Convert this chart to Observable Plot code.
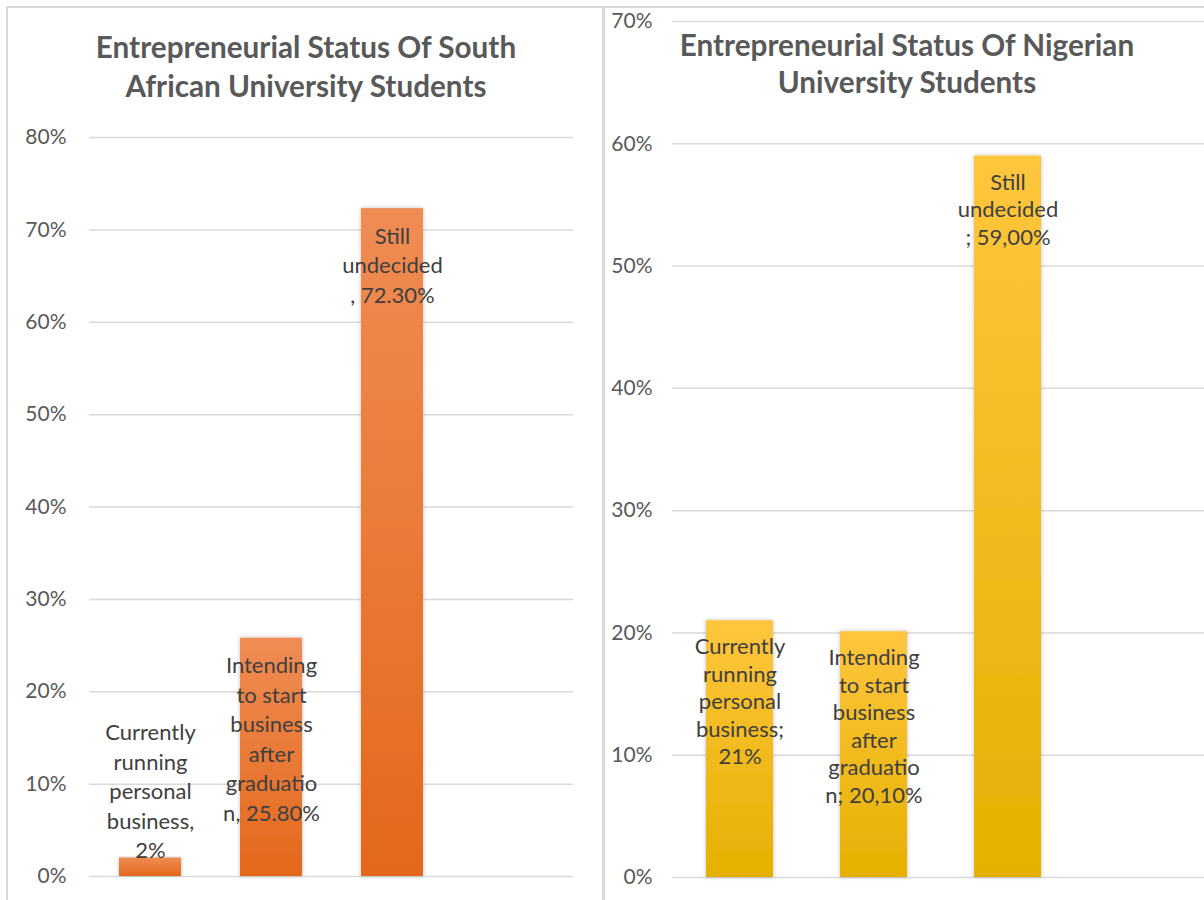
<!DOCTYPE html>
<html><head><meta charset="utf-8">
<script src="https://cdn.jsdelivr.net/npm/d3@7"></script>
<script src="https://cdn.jsdelivr.net/npm/@observablehq/plot@0.6"></script>
<style>
html,body{margin:0;padding:0;background:#fff;}
#wrap{position:relative;width:1204px;height:900px;overflow:hidden;font-family:Lato,"Open Sans",sans-serif;}
.panel{position:absolute;box-sizing:border-box;border:2px solid #d9d9d9;}
.title{position:absolute;text-align:center;font-weight:bold;color:#595959;font-size:29.7px;white-space:nowrap;}
.plot{position:absolute;top:0;width:603px;height:900px;}
.plot svg{max-width:none !important;}
</style></head><body>
<div id="wrap">
  <div class="panel" style="left:6px;top:6px;width:599px;height:920px"></div>
  <div class="panel" style="left:602px;top:6px;width:640px;height:920px"></div>
  <div id="left" class="plot" style="left:0"></div>
  <div id="right" class="plot" style="left:605px"></div>
  <div id="leftTitle" class="title" style="left:0;width:612px;top:27px;line-height:39px"></div>
  <div id="rightTitle" class="title" style="left:605px;width:604px;top:26px;line-height:37px"></div>
</div>
<script>
// ---- data ----
const categories = ["Currently running personal business", "Intending to start business after graduation", "Still undecided"];
const saValues = [0.02, 0.258, 0.723];
const saLabels = ["Currently\nrunning\npersonal\nbusiness,\n2%", "Intending\nto start\nbusiness\nafter\ngraduatio\nn, 25.80%", "Still\nundecided\n, 72.30%"];
const ngValues = [0.21, 0.201, 0.59];
const ngLabels = ["Currently\nrunning\npersonal\nbusiness;\n21%", "Intending\nto start\nbusiness\nafter\ngraduatio\nn; 20,10%", "Still\nundecided\n; 59,00%"];
const saTicks = [0, 0.1, 0.2, 0.3, 0.4, 0.5, 0.6, 0.7, 0.8];
const ngTicks = [0, 0.1, 0.2, 0.3, 0.4, 0.5, 0.6, 0.7];
const saTitle = ["Entrepreneurial Status Of South", "African University Students"];
const ngTitle = ["Entrepreneurial Status Of Nigerian", "University Students"];

document.getElementById("leftTitle").innerHTML = saTitle.join("<br>");
document.getElementById("rightTitle").innerHTML = ngTitle.join("<br>");

function addGradient(svg, id, top, bottom) {
  const defs = d3.select(svg).insert("defs", ":first-child");
  const g = defs.append("linearGradient").attr("id", id).attr("x1", 0).attr("y1", 0).attr("x2", 0).attr("y2", 1);
  g.append("stop").attr("offset", "0%").attr("stop-color", top);
  g.append("stop").attr("offset", "100%").attr("stop-color", bottom);
  const f = defs.append("filter").attr("id", id + "sh").attr("x", "-20%").attr("y", "-5%").attr("width", "140%").attr("height", "110%");
  f.append("feDropShadow").attr("dx", 0).attr("dy", 0).attr("stdDeviation", 2).attr("flood-color", "#000").attr("flood-opacity", 0.25);
}

function makeChart(opts) {
  const data = categories.map((c, i) => ({cat: c, value: opts.values[i], label: opts.labels[i]}));
  const svg = Plot.plot({
    width: opts.width, height: 900,
    marginLeft: opts.ml, marginRight: opts.mr, marginTop: opts.mt, marginBottom: opts.mb,
    style: {fontFamily: "Lato, 'Open Sans', sans-serif", color: "#595959", background: "transparent", overflow: "visible", maxWidth: "none"},
    x: {domain: [...categories, ""], paddingInner: opts.pi, paddingOuter: opts.pi / 2, axis: null},
    y: {domain: [0, opts.max], axis: null},
    marks: [
      Plot.gridY(opts.ticks, {stroke: "#d9d9d9", strokeOpacity: 1, strokeWidth: 1.5}),
      Plot.axisY(opts.ticks, {tickSize: 0, tickPadding: opts.tp, tickFormat: d3.format(".0%"), fontSize: 21, fill: "#595959", label: null}),
      Plot.barY(data, {x: "cat", y: "value", fill: `url(#${opts.id})`}),
      Plot.text(data.filter(d => d.value >= 0.1), {x: "cat", y: "value", text: "label", lineAnchor: "top", dy: opts.dy, lineHeight: opts.lh, fontSize: 22, fill: "#404040"}),
      Plot.text(data.filter(d => d.value < 0.1), {x: "cat", y: "value", text: "label", lineAnchor: "bottom", dy: 0, lineHeight: opts.lh, fontSize: 22, fill: "#404040"})
    ]
  });
  addGradient(svg, opts.id, opts.top, opts.bottom);
  d3.select(svg).selectAll("rect").filter(function() { return (this.getAttribute("fill") || this.parentNode.getAttribute("fill") || "").startsWith("url"); })
    .attr("filter", `url(#${opts.id}sh)`);
  return svg;
}

document.getElementById("left").append(makeChart({
  id: "saGrad", values: saValues, labels: saLabels, ticks: saTicks, max: 0.8,
  width: 603, ml: 89, mr: 30, mt: 137, mb: 24, pi: 0.49, tp: 23, dy: 14, lh: 1.34,
  top: "#F08C54", bottom: "#E3681B"
}));
document.getElementById("right").append(makeChart({
  id: "ngGrad", values: ngValues, labels: ngLabels, ticks: ngTicks, max: 0.7,
  width: 603, ml: 67, mr: 0, mt: 21, mb: 23, pi: 0.5, tp: 20, dy: 14, lh: 1.25,
  top: "#FFC63E", bottom: "#E5B000"
}));
</script>
</body></html>
